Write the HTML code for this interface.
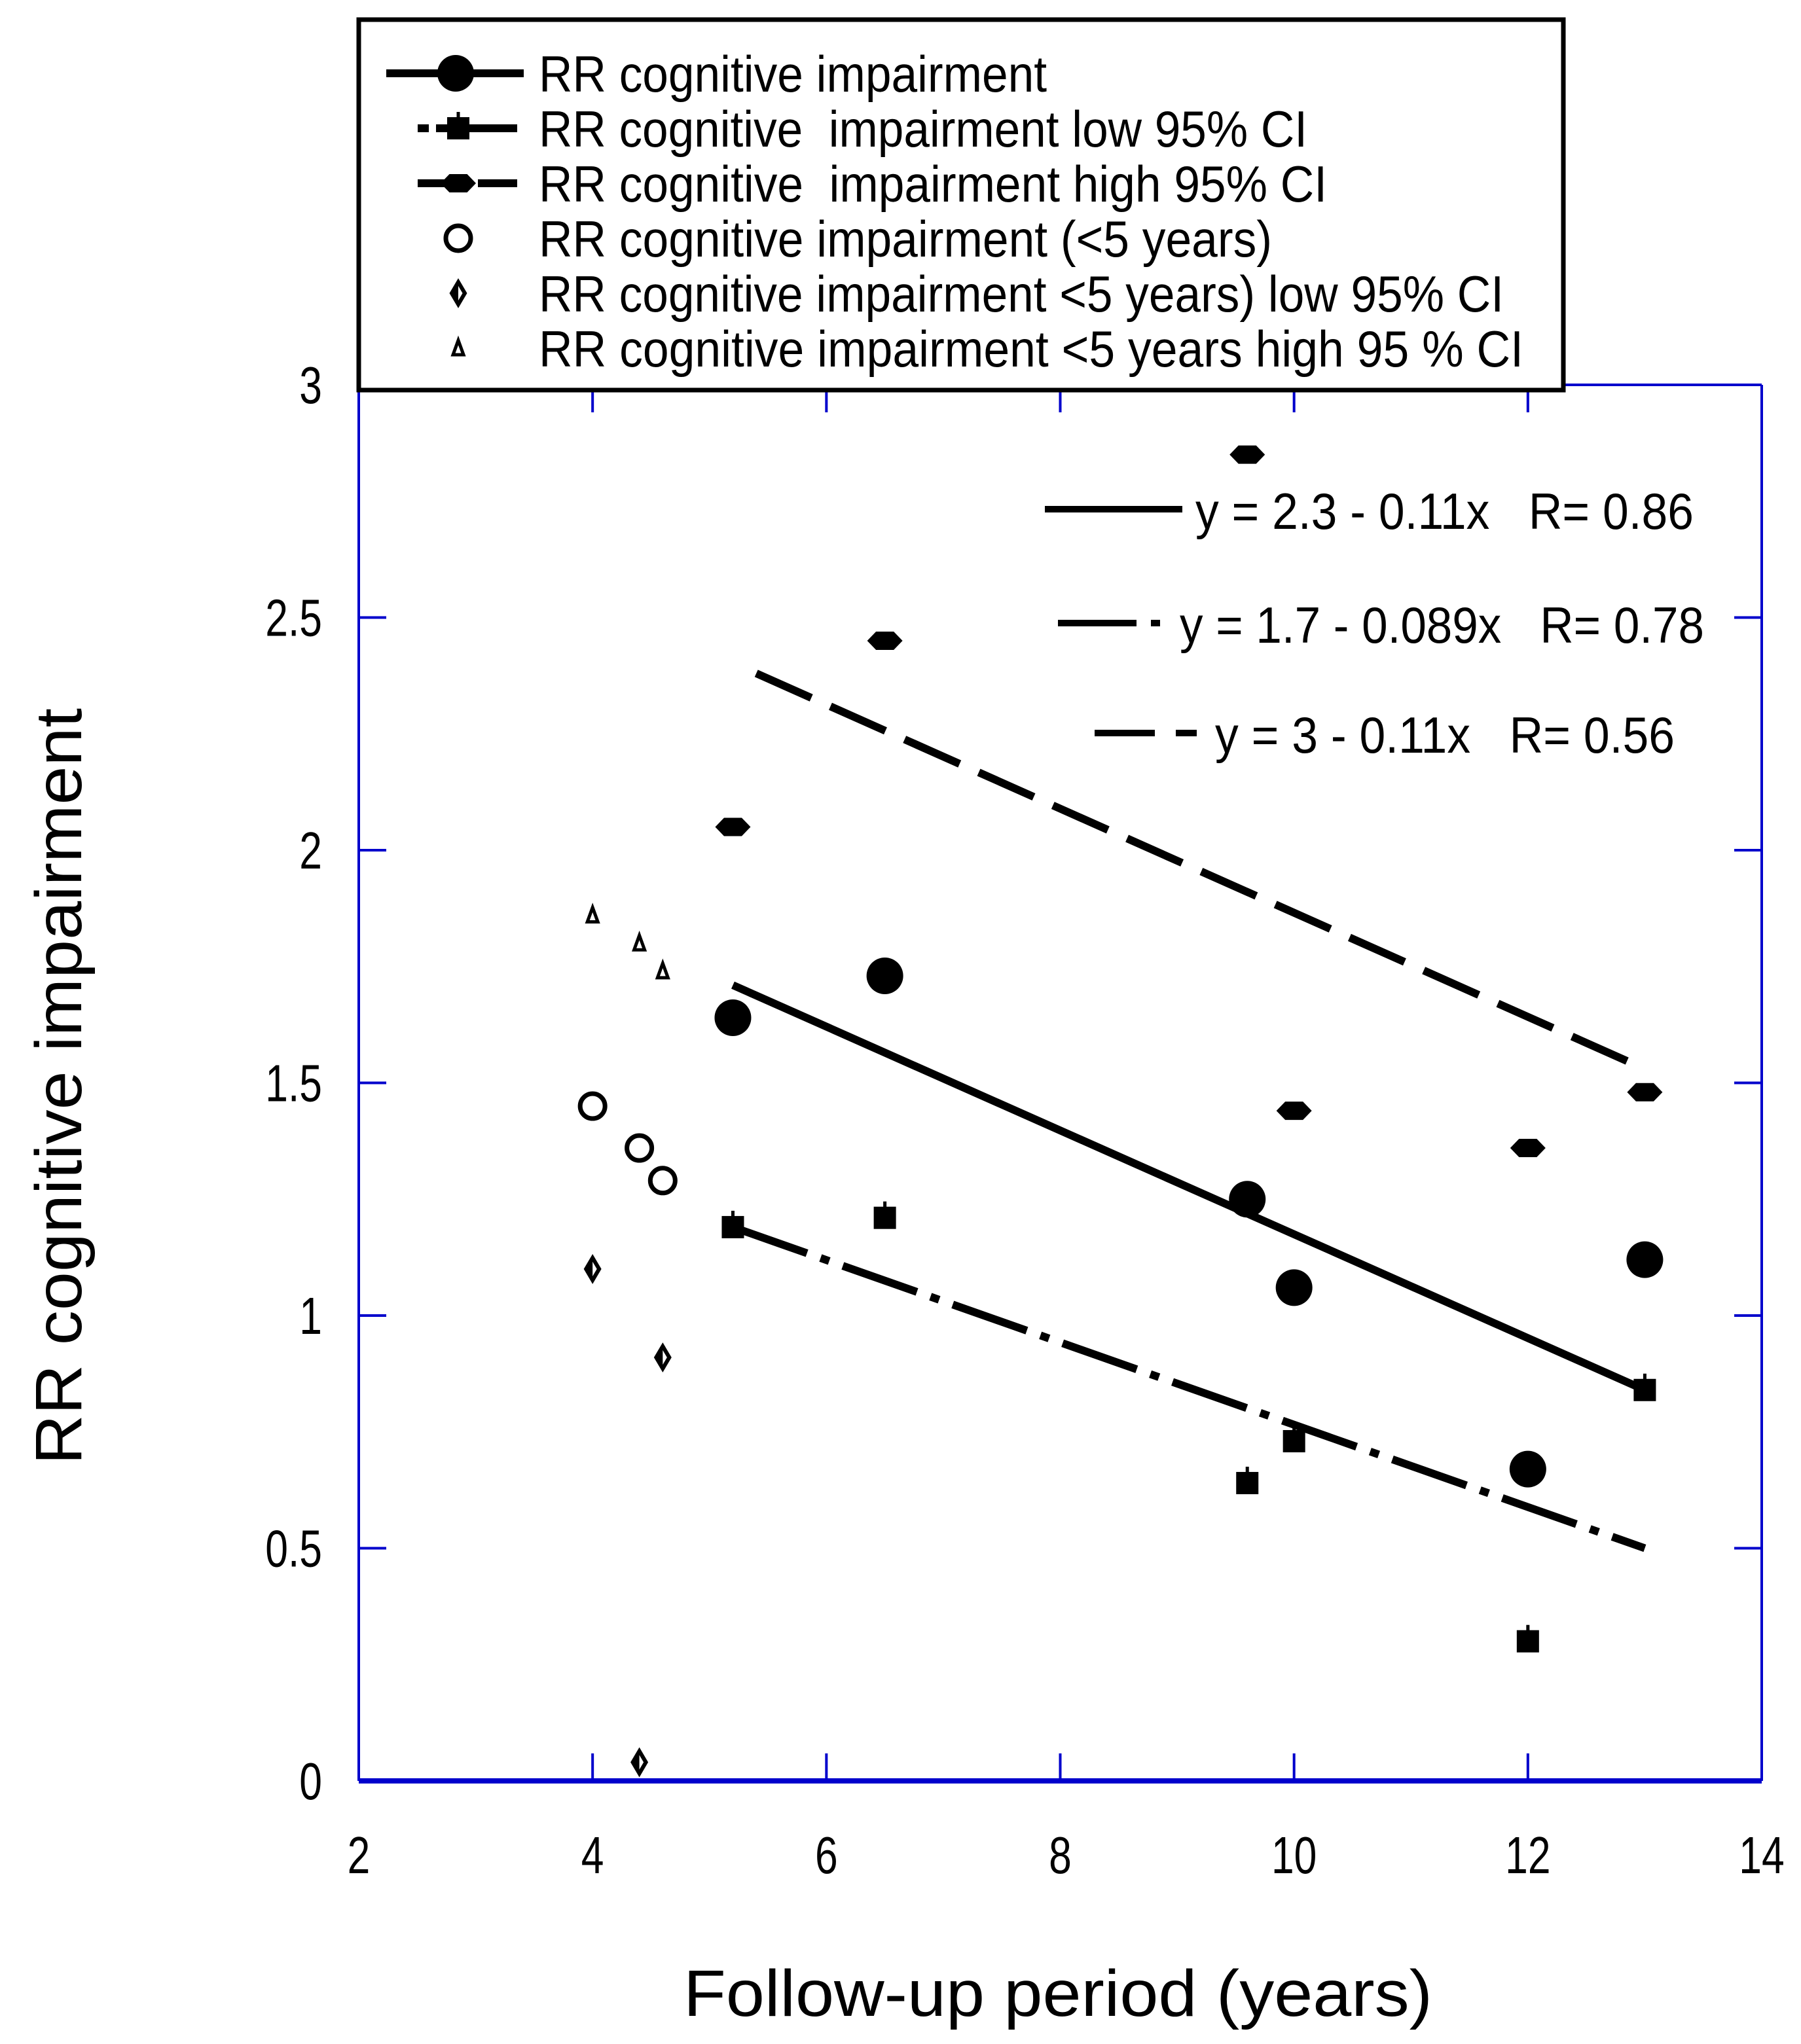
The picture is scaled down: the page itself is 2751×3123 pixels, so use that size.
<!DOCTYPE html>
<html><head><meta charset="utf-8"><style>html,body{margin:0;padding:0;background:#fff}svg{display:block}text{font-family:"Liberation Sans",Arial,sans-serif;white-space:pre}</style></head>
<body>
<svg id="chart" width="2751" height="3123" viewBox="0 0 2751 3123" xmlns="http://www.w3.org/2000/svg">
<g id="axes"></g>
<g id="lines"></g>
<g id="marks"></g>
<g id="legend">
<rect x="548" y="30" width="1840" height="566" fill="#fff" stroke="#000" stroke-width="7"/>
</g>
<g id="eqs"></g>
<text transform="translate(124,1660) rotate(-90)" text-anchor="middle" font-size="100" textLength="1156" lengthAdjust="spacingAndGlyphs">RR cognitive impairment</text>
<text x="1616" y="3080" text-anchor="middle" font-size="100" textLength="1144" lengthAdjust="spacingAndGlyphs">Follow-up period (years)</text>
</svg>
<script>
const xTicks=[2,4,6,8,10,12,14];
const yTicks=[0,0.5,1,1.5,2,2.5,3];
const yTickLabels=['0','0.5','1','1.5','2','2.5','3'];
const xMain=[5.2,6.5,9.6,10,12,13];
const rrMain=[1.64,1.73,1.25,1.06,0.67,1.12];
const rrLow=[1.19,1.21,0.64,0.73,0.30,0.84];
const rrHigh=[2.05,2.45,2.85,1.44,1.36,1.48];
const xShort=[4,4.4,4.6];
const rrShort=[1.45,1.36,1.29];
const rrShortLow=[1.10,0.04,0.91];
const rrShortHigh=[1.86,1.80,1.74];
const fitMainX=[5.2,13];const fitMainY=[1.71,0.84];
const fitLowX=[5.2,13];const fitLowY=[1.19,0.50];
const fitHighX=[5.4,13];const fitHighY=[2.38,1.53];
const NS='http://www.w3.org/2000/svg';
const X0=548,X1=2691,Y0=2721,Y1=588;
const sx=v=>X0+(v-2)/12*(X1-X0);
const sy=v=>Y0-v/3*(Y0-Y1);
function mk(tag,parent,attrs){const e=document.createElementNS(NS,tag);for(const k in attrs)e.setAttribute(k,attrs[k]);document.getElementById(parent).appendChild(e);return e;}
const blue='#0000cc';
let e;
e=mk('line','axes',{x1:X0,y1:Y0,x2:X1,y2:Y0,stroke:blue,'stroke-width':8});

e=mk('line','axes',{x1:X0,y1:Y1,x2:X0,y2:Y0,stroke:blue,'stroke-width':4});

e=mk('line','axes',{x1:X1,y1:Y1,x2:X1,y2:Y0,stroke:blue,'stroke-width':4});

e=mk('line','axes',{x1:X0,y1:Y1,x2:X1,y2:Y1,stroke:blue,'stroke-width':4});

xTicks.forEach((t,i)=>{
 e=mk('line','axes',{x1:sx(t),y1:Y0,x2:sx(t),y2:Y0-42,stroke:blue,'stroke-width':4});
 
 e=mk('line','axes',{x1:sx(t),y1:Y1,x2:sx(t),y2:Y1+42,stroke:blue,'stroke-width':4});
 
 e=mk('text','axes',{transform:`translate(${sx(t)},2862) scale(0.78,1)`,'text-anchor':'middle','font-size':80});
 
 e.textContent=String(t);
});
yTicks.forEach((t,i)=>{
 e=mk('line','axes',{x1:X0,y1:sy(t),x2:X0+42,y2:sy(t),stroke:blue,'stroke-width':4});
 
 e=mk('line','axes',{x1:X1,y1:sy(t),x2:X1-42,y2:sy(t),stroke:blue,'stroke-width':4});
 
 e=mk('text','axes',{transform:`translate(492,${sy(t)+28}) scale(0.78,1)`,'text-anchor':'end','font-size':80});
 
 e.textContent=yTickLabels[i];
});
function fit(xs,ys,dash,name){e=mk('line','lines',{x1:sx(xs[0]),y1:sy(ys[0]),x2:sx(xs[1]),y2:sy(ys[1]),stroke:'#000','stroke-width':12,'stroke-dasharray':dash});
 }
fit(fitMainX,fitMainY,'none','fit-line-main');
fit(fitLowX,fitLowY,'120 22 14 22','fit-line-low');
fit(fitHighX,fitHighY,'92 32','fit-line-high');
function circle(g,x,y,r,fill){return mk('circle',g,{cx:x,cy:y,r:r,fill:fill,stroke:'#000','stroke-width':fill==='#fff'?7:0});}
function square(g,x,y){const s=34;const e=mk('rect',g,{x:x-s/2,y:y-s/2,width:s,height:s,fill:'#000'});mk('line',g,{x1:x,y1:y-s/2-8,x2:x,y2:y,stroke:'#000','stroke-width':5});return e;}
function hex(g,x,y){const w=27,h=14;return mk('polygon',g,{points:`${x-w},${y} ${x-w/2},${y-h} ${x+w/2},${y-h} ${x+w},${y} ${x+w/2},${y+h} ${x-w/2},${y+h}`,fill:'#000'});}
function diamond(g,x,y){mk('polygon',g,{points:`${x},${y-17} ${x},${y+17} ${x-10},${y}`,fill:'#000'});return mk('polygon',g,{points:`${x},${y-17} ${x+10},${y} ${x},${y+17} ${x-10},${y}`,fill:'none',stroke:'#000','stroke-width':6});}
function tri(g,x,y){return mk('polygon',g,{points:`${x},${y-12} ${x+8},${y+10} ${x-8},${y+10}`,fill:'#fff',stroke:'#000','stroke-width':5});}
xMain.forEach((x,i)=>{
 e=circle('marks',sx(x),sy(rrMain[i]),28,'#000');
 e=square('marks',sx(x),sy(rrLow[i]));
 e=hex('marks',sx(x),sy(rrHigh[i]));
});
xShort.forEach((x,i)=>{
 e=circle('marks',sx(x),sy(rrShort[i]),19,'#fff');
 e=diamond('marks',sx(x),sy(rrShortLow[i]));
 e=tri('marks',sx(x),sy(rrShortHigh[i]));
});
const legLabels=['RR cognitive impairment','RR cognitive  impairment low 95% CI','RR cognitive  impairment high 95% CI','RR cognitive impairment (<5 years)','RR cognitive impairment <5 years) low 95% CI','RR cognitive impairment <5 years high 95 % CI'];
const legWidths=[776,1174,1204,1120,1474,1504];
legLabels.forEach((l,i)=>{
 const y=112+i*84;
 e=mk('text','legend',{x:823,y:y+28,'font-size':78,textLength:legWidths[i],lengthAdjust:'spacingAndGlyphs'});
 
 e.textContent=l;
 if(i===0){mk('line','legend',{x1:590,y1:y,x2:800,y2:y,stroke:'#000','stroke-width':12});circle('legend',696,y,28,'#000');}
 if(i===1){mk('line','legend',{x1:638,y1:y,x2:655,y2:y,stroke:'#000','stroke-width':12});mk('line','legend',{x1:666,y1:y,x2:790,y2:y,stroke:'#000','stroke-width':12});square('legend',700,y);}
 if(i===2){mk('line','legend',{x1:638,y1:y,x2:790,y2:y,stroke:'#000','stroke-width':12,'stroke-dasharray':'76 16'});hex('legend',700,y);}
 if(i===3)circle('legend',700,y,19,'#fff');
 if(i===4)diamond('legend',700,y);
 if(i===5)tri('legend',700,y);
});
const eqLabels=['y = 2.3 - 0.11x   R= 0.86','y = 1.7 - 0.089x   R= 0.78','y = 3 - 0.11x   R= 0.56'];
const eqWidths=[761,801,702];
const eqDash=['none','120 22 14 22','92 32'];
const eqLineX=[[1596,1806],[1616,1776],[1672,1828]];
const eqTextX=[1826,1802,1856];
const eqY=[778,952,1120];
eqLabels.forEach((l,i)=>{
 e=mk('line','eqs',{x1:eqLineX[i][0],y1:eqY[i],x2:eqLineX[i][1],y2:eqY[i],stroke:'#000','stroke-width':10,'stroke-dasharray':eqDash[i]});
 
 e=mk('text','eqs',{x:eqTextX[i],y:eqY[i]+30,'font-size':78,textLength:eqWidths[i],lengthAdjust:'spacingAndGlyphs'});
 
 e.textContent=l;
});
</script>
</body></html>
